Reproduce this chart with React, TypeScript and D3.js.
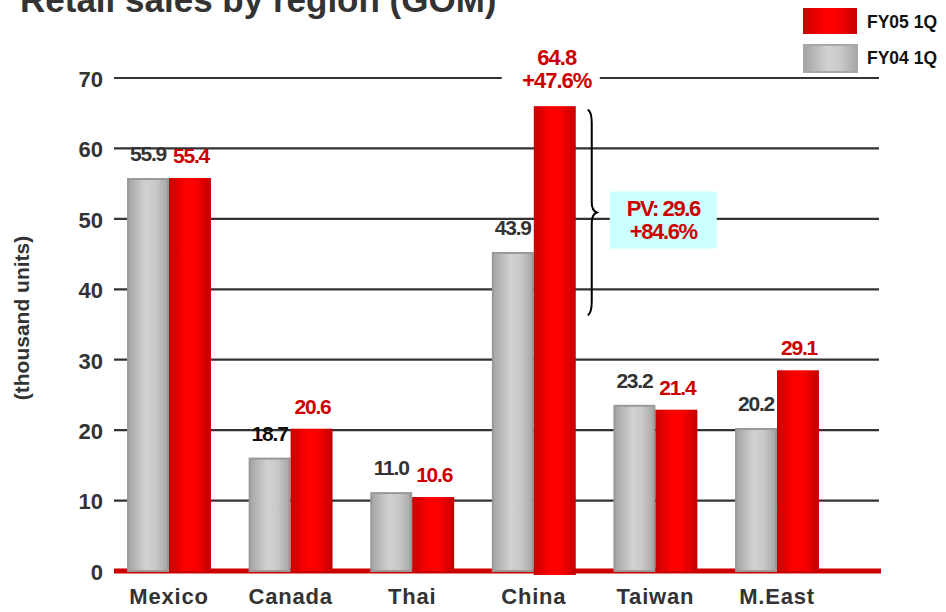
import React from "react";
import * as d3 from "d3";

const title = "Retail sales by region (GOM)";
const yAxisTitle = "(thousand units)";
const categories = ["Mexico", "Canada", "Thai", "China", "Taiwan", "M.East"];
// bar heights as drawn in the picture
const fy04Values = [55.8, 16.1, 11.2, 45.3, 23.6, 20.3];
const fy05Values = [55.8, 20.2, 10.5, 66.0, 22.9, 28.5];
// value labels as printed
const fy04Labels = ["55.9", "18.7", "11.0", "43.9", "23.2", "20.2"];
const fy05Labels = ["55.4", "20.6", "10.6", "64.8", "21.4", "29.1"];
const yTicks = [0, 10, 20, 30, 40, 50, 60, 70];
const seriesNames = ["FY05 1Q", "FY04 1Q"];
const chinaGrowth = "+47.6%";
const pvLines = ["PV: 29.6", "+84.6%"];
const bracketRange = [65.5, 36.3];

const W = 946;
const H = 612;
const FONT = "'Liberation Sans', Arial, Helvetica, sans-serif";
const RED = "#cc0000";
const DARK = "#333333";

export default function App() {
  const y = d3.scaleLinear().domain([0, 70]).range([571, 78]);
  const x = d3
    .scaleBand<string>()
    .domain(categories)
    .range([108.2, 837.8])
    .paddingInner(0.31)
    .paddingOuter(0.155);
  const sub = d3
    .scaleBand<string>()
    .domain(["fy04", "fy05"])
    .range([0, x.bandwidth()])
    .padding(0);
  const bw = sub.bandwidth();
  const gridX0 = 114;
  const gridX1 = 879;

  const chinaIdx = categories.indexOf("China");
  const chinaRedX = (x("China") as number) + (sub("fy05") as number);
  const chinaRedCx = chinaRedX + bw / 2;
  const chinaTop = y(fy05Values[chinaIdx]);

  const bTop = y(bracketRange[0]);
  const bBot = y(bracketRange[1]);
  const bMid = (bTop + bBot) / 2;
  const bx = chinaRedX + bw + 16;
  const bracketPath = `M${bx - 4},${bTop} Q${bx},${bTop + 2} ${bx},${bTop + 14} L${bx},${bMid - 10} Q${bx},${bMid - 2} ${bx + 5},${bMid} Q${bx},${bMid + 2} ${bx},${bMid + 10} L${bx},${bBot - 14} Q${bx},${bBot - 2} ${bx - 4},${bBot}`;

  const boxX = bx + 18;
  const boxW = 107;
  const boxH = 57;
  const boxY = bMid - 21;

  return (
    <svg
      width={W}
      height={H}
      style={{ position: "absolute", left: 0, top: 0, background: "#fff" }}
      fontFamily={FONT}
    >
      <defs>
        <linearGradient id="gGrey" x1="0" x2="1" y1="0" y2="0">
          <stop offset="0" stopColor="#a4a4a4" />
          <stop offset="0.45" stopColor="#d2d2d2" />
          <stop offset="0.7" stopColor="#c8c8c8" />
          <stop offset="1" stopColor="#a6a6a6" />
        </linearGradient>
        <linearGradient id="gRed" x1="0" x2="1" y1="0" y2="0">
          <stop offset="0" stopColor="#c80000" />
          <stop offset="0.4" stopColor="#ff0000" />
          <stop offset="0.6" stopColor="#ff0000" />
          <stop offset="1" stopColor="#c40000" />
        </linearGradient>
      </defs>
      <rect x={0} y={0} width={W} height={H} fill="#fff" />

      {/* title (cut at top) */}
      <text x={20} y={12} fontSize={35} fontWeight="bold" fill={DARK}>
        {title}
      </text>

      {/* grid lines */}
      {yTicks
        .filter((t) => t > 0)
        .map((t) => (
          <line
            key={t}
            x1={gridX0}
            x2={gridX1}
            y1={y(t)}
            y2={y(t)}
            stroke={DARK}
            strokeWidth={2.2}
          />
        ))}
      {/* red baseline */}
      <line x1={gridX0} x2={gridX1 + 2} y1={y(0)} y2={y(0)} stroke={RED} strokeWidth={5} />

      {/* y tick labels */}
      {yTicks.map((t) => (
        <text
          key={t}
          x={103}
          y={y(t) + (t === 0 ? 1 : 1)}
          dy="0.36em"
          textAnchor="end"
          fontSize={22}
          fontWeight="bold"
          fill={DARK}
        >
          {t}
        </text>
      ))}

      {/* y axis title */}
      <text
        transform={`translate(29,318) rotate(-90)`}
        textAnchor="middle"
        fontSize={21}
        fontWeight="bold"
        fill={DARK}
      >
        {yAxisTitle}
      </text>

      {/* bars */}
      {categories.map((c, i) => {
        const gx = x(c) as number;
        const x4 = gx + (sub("fy04") as number);
        const x5 = gx + (sub("fy05") as number);
        return (
          <g key={c}>
            <rect
              x={x4 + 1}
              y={y(fy04Values[i]) + 1}
              width={bw - 2}
              height={y(0) - y(fy04Values[i]) - 1}
              fill="url(#gGrey)"
              stroke="#999"
              strokeWidth={2}
            />
            <rect
              x={x5}
              y={y(fy05Values[i])}
              width={bw}
              height={y(0) - y(fy05Values[i]) + (c === "China" ? 4 : 0)}
              fill="url(#gRed)"
            />
          </g>
        );
      })}

      {/* value labels */}
      {categories.map((c, i) => {
        const gx = x(c) as number;
        const cx4 = gx + (sub("fy04") as number) + bw / 2;
        const cx5 = gx + (sub("fy05") as number) + bw / 2;
        return (
          <g key={c} fontWeight="bold" fontSize={21} textAnchor="middle" letterSpacing={-1.2}>
            <text x={cx4} y={y(fy04Values[i]) - 17} fill={c === "Canada" ? "#111" : DARK}>
              {fy04Labels[i]}
            </text>
            {c !== "China" && (
              <text x={cx5 + 1} y={y(fy05Values[i]) - 15} fill={RED}>
                {fy05Labels[i]}
              </text>
            )}
          </g>
        );
      })}

      {/* China two-line label with white knockout over the top gridline */}
      <rect x={chinaRedCx - 53} y={chinaTop - 60} width={98} height={50} fill="#fff" />
      <g fontWeight="bold" fontSize={22} textAnchor="middle" fill={RED} letterSpacing={-1}>
        <text x={chinaRedCx + 2} y={chinaTop - 41}>
          {fy05Labels[chinaIdx]}
        </text>
        <text x={chinaRedCx + 2} y={chinaTop - 18}>
          {chinaGrowth}
        </text>
      </g>

      {/* bracket */}
      <path d={bracketPath} fill="none" stroke="#000" strokeWidth={2} />

      {/* PV box */}
      <rect x={boxX} y={boxY} width={boxW} height={boxH} fill="#ccffff" />
      <g fontWeight="bold" fontSize={22} textAnchor="middle" fill={RED} letterSpacing={-1.4}>
        <text x={boxX + boxW / 2} y={boxY + 24}>
          {pvLines[0]}
        </text>
        <text x={boxX + boxW / 2} y={boxY + 47}>
          {pvLines[1]}
        </text>
      </g>

      {/* x labels */}
      {categories.map((c) => (
        <text
          key={c}
          x={(x(c) as number) + x.bandwidth() / 2}
          y={604}
          textAnchor="middle"
          fontSize={22}
          fontWeight="bold"
          fill={DARK}
          letterSpacing={0.8}
        >
          {c}
        </text>
      ))}

      {/* legend */}
      <rect x={803} y={8} width={54} height={26} fill="url(#gRed)" />
      <rect x={804} y={45} width={53} height={27} fill="url(#gGrey)" stroke="#a8a8a8" strokeWidth={2} />
      <g fontWeight="bold" fontSize={17.5} fill="#111">
        <text x={867} y={28}>
          {seriesNames[0]}
        </text>
        <text x={867} y={64}>
          {seriesNames[1]}
        </text>
      </g>
    </svg>
  );
}
